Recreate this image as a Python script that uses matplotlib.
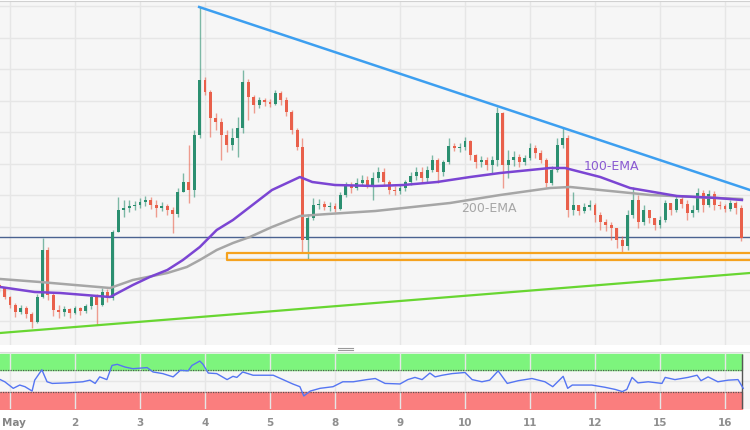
import numpy as np
import matplotlib.pyplot as plt
from matplotlib.lines import Line2D

# 2-hour candles, x measured in trading days (0 = May 1)
first_x = -2 / 12
step = 1 / 12
open0 = 60
closes = [57, 48, 40, 33, 37, 31, 23, 48, 95, 50, 35, 33, 36, 32, 37, 34, 39, 48, 40, 53,
          47, 113, 135, 137, 139, 140, 143, 145, 140, 137, 139, 135, 131, 153, 163, 155, 210, 265, 253, 227,
          223, 210, 200, 207, 217, 263, 248, 240, 245, 243, 241, 252, 245, 233, 215, 198, 105, 127, 140, 141,
          138, 139, 136, 150, 160, 157, 162, 165, 160, 167, 173, 163, 155, 154, 157, 163, 169, 173, 167, 175,
          185, 173, 183, 199, 197, 198, 204, 190, 183, 185, 180, 185, 232, 180, 185, 188, 183, 187, 197, 192,
          185, 162, 175, 200, 207, 135, 140, 134, 138, 140, 130, 123, 120, 117, 105, 99, 130, 145, 123, 135,
          127, 120, 125, 142, 135, 146, 141, 132, 135, 152, 140, 151, 140, 139, 136, 142, 137, 107]
highs = [62, 58, 49, 42, 40, 39, 33, 51, 107, 98, 52, 40, 39, 37, 39, 38, 41, 50, 51, 57,
         56, 115, 148, 145, 145, 144, 147, 149, 148, 145, 143, 141, 138, 157, 172, 200, 215, 338, 268, 255,
         232, 227, 215, 217, 228, 275, 266, 250, 248, 247, 246, 255, 254, 248, 235, 217, 207, 131, 147, 146,
         144, 143, 142, 153, 163, 163, 167, 170, 169, 173, 178, 177, 165, 159, 160, 165, 173, 178, 178, 179,
         190, 187, 185, 207, 202, 202, 208, 205, 191, 189, 188, 189, 238, 233, 195, 194, 191, 190, 202, 200,
         195, 187, 179, 207, 217, 210, 153, 140, 142, 145, 142, 133, 126, 123, 117, 109, 135, 158, 150, 140,
         135, 127, 129, 145, 142, 150, 149, 145, 140, 157, 155, 155, 154, 144, 141, 145, 144, 140]
lows = [53, 46, 37, 28, 31, 27, 17, 22, 47, 45, 29, 27, 29, 27, 31, 30, 32, 36, 20, 39,
        43, 45, 113, 128, 133, 135, 137, 139, 136, 128, 134, 130, 112, 128, 153, 142, 148, 207, 250, 208,
        215, 185, 193, 195, 188, 212, 225, 232, 237, 239, 238, 240, 240, 229, 211, 195, 92, 86, 125, 136,
        135, 134, 133, 135, 148, 152, 155, 159, 157, 145, 163, 159, 151, 150, 151, 154, 160, 165, 162, 163,
        173, 162, 169, 181, 194, 193, 195, 185, 177, 178, 175, 172, 179, 157, 167, 179, 178, 180, 185, 187,
        182, 158, 160, 173, 197, 128, 130, 130, 132, 135, 123, 115, 114, 105, 97, 92, 95, 127, 117, 120,
        122, 115, 117, 123, 130, 133, 137, 125, 128, 133, 133, 138, 135, 136, 133, 134, 131, 104]

ema100_x = [-0.15, 0.38, 0.77, 1.54, 1.89, 2.15, 2.42, 2.66, 2.92, 3.18, 3.43, 3.69, 4.03, 4.46,
            4.65, 5.0, 5.62, 6.05, 6.57, 7.08, 7.54, 8.31, 8.54, 9.08, 9.54, 10.26, 10.88, 11.26]
ema100 = [58, 53, 52, 48, 60, 68, 75, 85, 98, 115, 125, 138, 155, 168,
          163, 160, 159, 160, 163, 168, 172, 177, 177, 168, 157, 149, 147, 145]
ema200_x = [-0.15, 0.46, 1.54, 1.89, 2.42, 2.72, 2.92, 3.18, 3.43, 3.69, 4.03, 4.46, 4.89,
            5.62, 6.77, 7.54, 8.31, 8.62, 9.08, 9.85, 10.88, 11.26]
ema200 = [66, 63, 57, 65, 72, 78, 85, 95, 102, 108, 118, 129, 131,
          134, 142, 150, 157, 158, 155, 150, 147, 146]

resist_x = [2.91, 11.385]
resist_y = [338, 155]
support_x = [-0.154, 11.385]
support_y = [12, 72]
level = 108.5
zone_x0 = 3.34
zone_lo, zone_hi = 85, 92

rsi_x = [-0.15, -0.08, 0.05, 0.15, 0.23, 0.34, 0.38, 0.49, 0.57, 0.65, 0.88, 1.12, 1.23, 1.31,
         1.38, 1.49, 1.57, 1.65, 1.77, 1.89, 2.11, 2.20, 2.35, 2.51, 2.62, 2.74, 2.80, 2.92,
         2.97, 3.05, 3.18, 3.34, 3.43, 3.49, 3.58, 3.74, 4.05, 4.20, 4.35, 4.46, 4.52, 4.62,
         4.77, 4.97, 5.12, 5.28, 5.49, 5.62, 5.77, 6.00, 6.12, 6.23, 6.34, 6.46, 6.54, 6.65,
         6.80, 7.00, 7.11, 7.26, 7.38, 7.51, 7.65, 7.82, 8.03, 8.23, 8.35, 8.51, 8.58, 8.65,
         8.95, 9.15, 9.31, 9.42, 9.49, 9.57, 9.66, 9.82, 10.03, 10.08, 10.23, 10.43, 10.57,
         10.63, 10.74, 10.89, 11.05, 11.20, 11.28]
rsi = [53, 49, 37, 43, 40, 32, 52, 71, 49, 46, 47, 49, 52, 46,
       58, 53, 79, 81, 76, 73, 75, 67, 64, 58, 70, 69, 79, 87,
       81, 65, 64, 53, 59, 57, 67, 61, 61, 53, 45, 40, 23, 32,
       37, 40, 49, 49, 53, 55, 46, 45, 53, 57, 53, 65, 58, 61,
       64, 66, 53, 49, 52, 69, 46, 51, 55, 49, 40, 59, 37, 43,
       43, 39, 35, 31, 35, 57, 47, 49, 46, 57, 53, 57, 61,
       51, 58, 49, 52, 53, 37]

day_labels = ['May', '2', '3', '4', '5', '8', '9', '10', '11', '12', '15', '16']

UP = '#2b8f70'
DOWN = '#e9604b'
BG = '#f6f6f6'
GRID = '#e6e6e6'
XMIN, XMAX = -10 / 65, 740 / 65

fig = plt.figure(figsize=(7.5, 4.3), dpi=100)
fig.patch.set_facecolor('white')

ax = fig.add_axes([0, 85 / 430, 1, 344 / 430])
ax.set_facecolor(BG)
ax.set_xlim(XMIN, XMAX)
ax.set_ylim(0, 344)
ax.set_yticks(np.arange(24, 344, 31.5))
ax.set_xticks(range(len(day_labels)))
ax.grid(True, color=GRID, lw=1)
ax.tick_params(length=0, labelbottom=False, labelleft=False)
for s in ax.spines.values():
    s.set_visible(False)
ax.spines['top'].set_visible(True)
ax.spines['top'].set_color('#d0d0d0')

# candles
n = len(closes)
xs = np.array([first_x + i * step for i in range(n)])
opens = np.array([open0] + closes[:-1], dtype=float)
c = np.array(closes, dtype=float)
hi = np.maximum(np.array(highs, dtype=float), np.maximum(opens, c))
lo = np.minimum(np.array(lows, dtype=float), np.minimum(opens, c))
cols = [UP if cc >= oo else DOWN for oo, cc in zip(opens, c)]
ax.vlines(xs, lo, hi, colors=cols, lw=1, alpha=0.6, zorder=3)
body = np.maximum(np.abs(c - opens), 0.8)
ax.bar(xs, body, bottom=np.minimum(opens, c), width=0.045, color=cols, lw=0, zorder=4)

# moving averages
ax.plot(ema200_x, ema200, color='#a6a6a6', lw=1.8, zorder=5)
ax.plot(ema100_x, ema100, color='#7b45d3', lw=1.8, zorder=5)
ax.text(9.25, 179, '100-EMA', color='#8a5ad2', fontsize=9, ha='center', va='center', zorder=6)
ax.text(7.36, 136, '200-EMA', color='#a6a6a6', fontsize=9, ha='center', va='center', zorder=6)

# trend lines and levels
ax.plot(resist_x, resist_y, color='#3d9ff0', lw=1.8, zorder=6)
ax.plot(support_x, support_y, color='#68d631', lw=1.6, zorder=6)
ax.axhline(level, color='#4a6290', lw=1, zorder=2)
ax.plot([XMAX + 0.1, zone_x0, zone_x0, XMAX + 0.1], [zone_hi, zone_hi, zone_lo, zone_lo],
        color='#f5a21f', lw=1.6, zorder=6, clip_on=True)

# separator handle
for yy in (347.5, 349.5):
    fig.add_artist(Line2D([338 / 750, 353 / 750], [1 - yy / 430, 1 - yy / 430],
                          color='#9a9a9a', lw=0.8))
fig.add_artist(Line2D([0, 1], [1 - 352 / 430, 1 - 352 / 430], color='#dcdcdc', lw=0.8))

# RSI panel
rx = fig.add_axes([0, 21 / 430, 1, 57 / 430])
rx.set_facecolor(BG)
rx.set_xlim(XMIN, XMAX)
rx.set_ylim(-0.9, 103.6)
rx.set_xticks(range(len(day_labels)))
rx.set_yticks([50])
rx.grid(True, color=GRID, lw=1)
rx.tick_params(length=0, labelleft=False, labelbottom=False)
for s in rx.spines.values():
    s.set_visible(False)
for i, lab in enumerate(day_labels):
    if i == 0:
        rx.text(-0.125, -0.25, lab, transform=rx.get_xaxis_transform(), ha='left', va='center',
                fontsize=7.5, fontweight='bold', color='#858585')
    else:
        rx.text(i, -0.25, lab, transform=rx.get_xaxis_transform(), ha='center', va='center',
                fontsize=7.5, fontweight='bold', color='#8f8f8f')
band_end = 11.262
rx.fill_between([XMIN, band_end], 70, 100, color='#7df47d', zorder=1)
rx.fill_between([XMIN, band_end], 0, 30, color='#fa7e7e', zorder=1)
rx.hlines([70, 30], XMIN, band_end, colors='#555555', lw=0.9, linestyles=(0, (1, 1)), zorder=2)
rx.vlines(band_end, 0, 100, colors='#555555', lw=1, zorder=2)
rx.plot(rsi_x, rsi, color='#5575f2', lw=1.0, zorder=3)

fig.savefig('out.png', dpi=100)
